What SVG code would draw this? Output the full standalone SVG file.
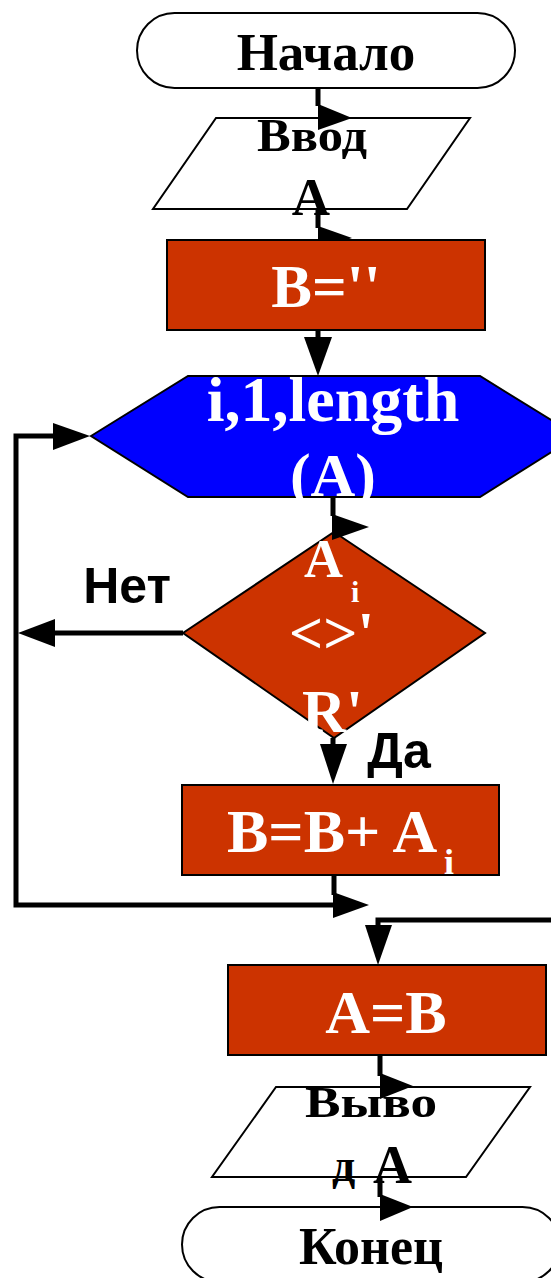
<svg xmlns="http://www.w3.org/2000/svg" width="551" height="1278" viewBox="0 0 551 1278">
<style>
.shape{stroke:#000;stroke-width:2}
.white{fill:#fff}
.none{fill:none}
.red{fill:#CC3300}
.blue{fill:#0000FF}
.t{font-family:"Liberation Serif","Times New Roman",serif;font-weight:bold}
.tb{fill:#000}
.tw{fill:#fff}
.lbl{font-family:"Liberation Sans",Arial,sans-serif;font-weight:bold;fill:#000;font-size:50px}
.ln{fill:none;stroke:#000;stroke-width:5}
.ah{fill:#000}
</style>
<rect width="551" height="1278" fill="#fff"/>
<g id="connectors">
<polyline class="ln" points="318,88 318,106"/>
<polygon class="ah" points="318,104 352,118 318,130"/>
<polyline class="ln" points="318,209 318,228"/>
<polyline class="ln" points="318,330 318,338"/>
<polygon class="ah" points="304,337 332,337 318,376"/>
<polyline class="ln" points="333,496 333,516"/>
<polyline class="ln" points="333,738 333,745"/>
<polygon class="ah" points="320,744 347,744 333,784"/>
<polyline class="ln" points="183,633 50,633"/>
<polygon class="ah" points="18,633 55,619 55,647"/>
<polyline class="ln" points="53,436 16,436 16,905 335,905"/>
<polygon class="ah" points="53,423 90,436 53,450"/>
<polyline class="ln" points="334,875 334,895"/>
<polygon class="ah" points="333,892 369,905 333,918"/>
<polyline class="ln" points="556,920 378,920 378,928"/>
<polygon class="ah" points="365,925 392,925 378,965"/>
<polyline class="ln" points="380,1055 380,1076"/>
<polygon class="ah" points="380,1073 413,1086 380,1099"/>
<polyline class="ln" points="380,1177 380,1197"/>
<polygon class="ah" points="380,1194 413,1207 380,1221"/>
</g>
<g id="start">
<rect class="shape white" x="137" y="13" width="378" height="75" rx="37.5"/>
<text class="t tb" x="326" y="70" font-size="53" text-anchor="middle">Начало</text>
</g>
<g id="input">
<polygon class="shape none" points="216,118 470,118 407,209 153,209"/>
<text class="t tb" x="257" y="151" font-size="46" textLength="110" lengthAdjust="spacingAndGlyphs">Ввод</text>
<text class="t tb" x="311" y="215" font-size="53" text-anchor="middle">A</text>
</g>
<polygon class="ah" points="318,226 352,238 346.3,240 318,240"/>
<g id="init">
<rect class="shape red" x="167" y="240" width="318" height="90"/>
<text class="t tw" x="326" y="307" font-size="61" text-anchor="middle">B=''</text>
</g>
<g id="loop">
<polygon class="shape blue" points="91,436 188,376 480,376 577,436 480,497 188,497"/>
<text class="t tw" x="333" y="421" font-size="64" text-anchor="middle">i,1,length</text>
<text class="t tw" x="333" y="496" font-size="62" text-anchor="middle">(A)</text>
</g>
<g id="cond">
<polygon class="shape red" points="334,532 485,633 334,738 183,633"/>
<text class="t tw" x="304" y="577" font-size="54">A</text>
<text class="t tw" x="351" y="602" font-size="30">i</text>
<text class="t tw" x="289" y="653" font-size="60">&lt;&gt;'</text>
<text class="t tw" x="302" y="732" font-size="61">R'</text>
</g>
<polygon class="ah" points="332,514 369,527 332,540"/>
<text id="no-label" class="lbl" x="127" y="603" text-anchor="middle">Нет</text>
<text id="yes-label" class="lbl" x="399" y="768" text-anchor="middle">Да</text>
<g id="append">
<rect class="shape red" x="182" y="785" width="317" height="90"/>
<text class="t tw" x="227" y="852" font-size="62">B=B+ A</text>
<text class="t tw" x="444" y="874" font-size="36">i</text>
</g>
<g id="assign">
<rect class="shape red" x="228" y="965" width="318" height="90"/>
<text class="t tw" x="386" y="1033" font-size="62" text-anchor="middle">A=B</text>
</g>
<g id="output">
<polygon class="shape none" points="276,1087 530,1087 466,1177 212,1177"/>
<text class="t tb" x="305" y="1117" font-size="44" textLength="132" lengthAdjust="spacingAndGlyphs">Выво</text>
<text class="t tb" x="332" y="1181" font-size="46">д</text>
<text class="t tb" x="373" y="1183" font-size="54">A</text>
</g>
<g id="end">
<rect class="shape none" x="182" y="1207" width="378" height="75" rx="37.5"/>
<text class="t tb" x="371" y="1264" font-size="52" text-anchor="middle">Конец</text>
</g>
</svg>
